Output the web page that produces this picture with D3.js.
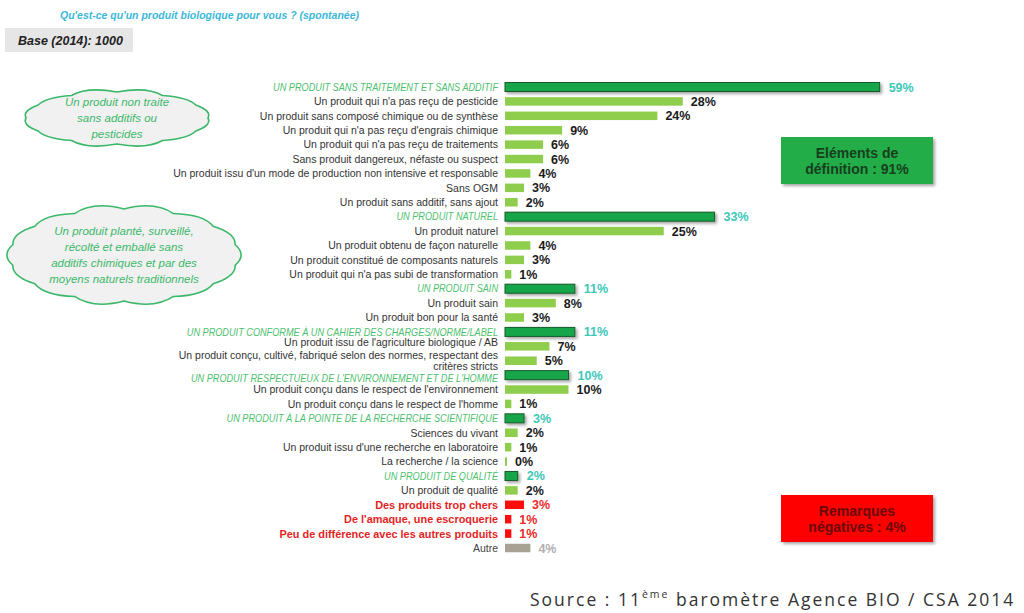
<!DOCTYPE html>
<html><head><meta charset="utf-8">
<script src="https://cdn.jsdelivr.net/npm/d3@7"></script>
<style>body{margin:0;background:#fff;}svg{display:block;}</style>
</head><body>
<svg id="c" width="1024" height="613"></svg>
<script>
const labels = [
 "UN PRODUIT SANS TRAITEMENT ET SANS ADDITIF",
 "Un produit qui n'a pas reçu de pesticide",
 "Un produit sans composé chimique ou de synthèse",
 "Un produit qui n'a pas reçu d'engrais chimique",
 "Un produit qui n'a pas reçu de traitements",
 "Sans produit dangereux, néfaste ou suspect",
 "Un produit issu d'un mode de production non intensive et responsable",
 "Sans OGM",
 "Un produit sans additif, sans ajout",
 "UN PRODUIT NATUREL",
 "Un produit naturel",
 "Un produit obtenu de façon naturelle",
 "Un produit constitué de composants naturels",
 "Un produit qui n'a pas subi de transformation",
 "UN PRODUIT SAIN",
 "Un produit sain",
 "Un produit bon pour la santé",
 "UN PRODUIT CONFORME À UN CAHIER DES CHARGES/NORME/LABEL",
 "Un produit issu de l'agriculture biologique / AB",
 "Un produit conçu, cultivé, fabriqué selon des normes, respectant des|critères stricts",
 "UN PRODUIT RESPECTUEUX DE L'ENVIRONNEMENT ET DE L'HOMME",
 "Un produit conçu dans le respect de l'environnement",
 "Un produit conçu dans le respect de l'homme",
 "UN PRODUIT À LA POINTE DE LA RECHERCHE SCIENTIFIQUE",
 "Sciences du vivant",
 "Un produit issu d'une recherche en laboratoire",
 "La recherche / la science",
 "UN PRODUIT DE QUALITÉ",
 "Un produit de qualité",
 "Des produits trop chers",
 "De l'amaque, une escroquerie",
 "Peu de différence avec les autres produits",
 "Autre"
];
const values = [59,28,24,9,6,6,4,3,2,33,25,4,3,1,11,8,3,11,7,5,10,10,1,3,2,1,0,2,2,3,1,1,4];
const types = ["cat","sub","sub","sub","sub","sub","sub","sub","sub","cat","sub","sub","sub","sub","cat","sub","sub","cat","sub","sub","cat","sub","sub","cat","sub","sub","sub","cat","sub","neg","neg","neg","other"];
const valueLabels = values.map(v => v + "%");
const title = "Qu'est-ce qu'un produit biologique  pour vous ? (spontanée)";
const baseText = "Base (2014): 1000";
const cloud1 = ["Un produit non traite","sans additifs ou","pesticides"];
const cloud2 = ["Un produit planté, surveillé,","récolté et emballé sans","additifs chimiques et par des","moyens naturels traditionnels"];
const boxPos = ["Eléments de","définition : 91%"];
const boxNeg = ["Remarques","négatives : 4%"];

const svg = d3.select("#c");
const defs = svg.append("defs");
const f = defs.append("filter").attr("id","sh").attr("x","-20%").attr("y","-40%").attr("width","150%").attr("height","200%");
f.append("feDropShadow").attr("dx",2).attr("dy",2).attr("stdDeviation",1.5).attr("flood-color","#000").attr("flood-opacity",0.35);

const FONT = "Liberation Sans, Arial, sans-serif";
const x0 = 505;
const x = d3.scaleLinear().domain([0,100]).range([0,635]);
const y = d3.scalePoint().domain(d3.range(labels.length)).range([87,548]);

const fillC = {cat:"#19a548", sub:"#8fce4c", neg:"#ff0d0d", other:"#a8a294"};
const valC = {cat:"#3cc8b8", sub:"#1a1a1a", neg:"#ee2a2a", other:"#b0b0b0"};
const labC = {cat:"#4cbf6e", sub:"#333", neg:"#e41e1e", other:"#444"};
const labFs = {cat:10.3, sub:10.5, neg:10.9, other:10.5};
const labSx = {cat:0.89, sub:1, neg:1, other:1};
// small vertical nudges of labels around the two-line label
const labNudge = {18:-4, 20:3};

// title
svg.append("text").attr("x",60).attr("y",19).text(title)
  .attr("font-family",FONT).attr("font-size",10.5)
  .attr("font-style","italic").attr("font-weight","bold").attr("fill","#3bb8d8");
svg.append("rect").attr("x",5).attr("y",28).attr("width",128).attr("height",24).attr("fill","#e6e6e6");
svg.append("text").attr("x",18).attr("y",45).text(baseText)
  .attr("font-family",FONT).attr("font-size",12.5)
  .attr("font-style","italic").attr("font-weight","bold").attr("fill","#222");

// labels
const g = svg.append("g");
labels.forEach((l,i) => {
  const t = types[i];
  const parts = l.split("|");
  const fs = labFs[t];
  const lg = g.append("g").attr("transform", `translate(498,${y(i)}) scale(${labSx[t]},1)`);
  const txt = lg.append("text").attr("x",0).attr("text-anchor","end")
    .attr("font-family",FONT)
    .attr("font-size", fs)
    .attr("font-weight", t==="neg" ? "bold" : "normal")
    .attr("font-style", t==="cat" ? "italic" : "normal")
    .attr("fill", labC[t]);
  if (parts.length === 1) {
    txt.attr("y", fs*0.36 + (labNudge[i]||0)).text(l);
  } else {
    txt.append("tspan").attr("x",0).attr("y",-5.5+fs*0.36).text(parts[0]);
    txt.append("tspan").attr("x",0).attr("y",5.5+fs*0.36).text(parts[1]);
  }
});

// bars
labels.forEach((l,i) => {
  const t = types[i];
  const w = Math.max(x(values[i]), 2);
  const h = t==="cat" ? 9 : 8.5;
  const r = g.append("rect").attr("x",x0).attr("y",y(i)-h/2).attr("width",w).attr("height",h)
    .attr("fill",fillC[t]);
  if (t==="cat") r.attr("stroke","#145a2a").attr("stroke-width",1).attr("filter","url(#sh)");
  g.append("text").attr("x",x0 + w + (t==="cat"?9:8)).attr("y",y(i)+4.5).text(valueLabels[i])
    .attr("font-family",FONT).attr("font-size",12.5)
    .attr("font-weight","bold").attr("fill",valC[t]);
});

// clouds
function cloudPath(cx, cy, rx, ry, n, bump) {
  const p = d3.path();
  const pts = d3.range(n).map(k => {
    const a = -Math.PI/2 + k*2*Math.PI/n;
    return [cx + rx*Math.cos(a), cy + ry*Math.sin(a)];
  });
  p.moveTo(pts[0][0], pts[0][1]);
  for (let k=0;k<n;k++){
    const a0 = pts[k], a1 = pts[(k+1)%n];
    const mx=(a0[0]+a1[0])/2, my=(a0[1]+a1[1])/2;
    const dx=mx-cx, dy=my-cy, d=Math.hypot(dx,dy)||1;
    p.quadraticCurveTo(mx + dx/d*bump, my + dy/d*bump, a1[0], a1[1]);
  }
  p.closePath();
  return p.toString();
}
function cloud(cx, cy, rx, ry, n, bump, lines, fs, lh) {
  svg.append("path").attr("d", cloudPath(cx,cy,rx,ry,n,bump))
    .attr("fill","#f1f1f1").attr("stroke","#3cb86a").attr("stroke-width",1.6);
  const t = svg.append("text").attr("text-anchor","middle")
    .attr("font-family",FONT).attr("font-size",fs)
    .attr("font-style","italic").attr("fill","#3cb86a");
  lines.forEach((s,k)=> t.append("tspan").attr("x",cx).attr("y",cy - (lines.length-1)*lh/2 + k*lh + fs*0.35).text(s));
}
cloud(117, 118, 91, 26, 12, 10, cloud1, 11.5, 16);
cloud(124, 255, 114, 46, 14, 12, cloud2, 11.5, 16);

// boxes
function box(x1, y1, w, h, fill, tc, lines) {
  svg.append("rect").attr("x",x1).attr("y",y1).attr("width",w).attr("height",h).attr("fill",fill).attr("filter","url(#sh)");
  const t = svg.append("text").attr("text-anchor","middle")
    .attr("font-family",FONT).attr("font-size",14)
    .attr("font-weight","bold").attr("fill",tc);
  lines.forEach((s,k)=> t.append("tspan").attr("x",x1+w/2).attr("y",y1+21 + k*16).text(s));
}
box(781, 137, 152, 47, "#20ad4a", "#173f1d", boxPos);
box(781, 495, 152, 47, "#ff0000", "#6a0a0a", boxNeg);

// source
const st = svg.append("text").attr("x",530).attr("y",606)
  .attr("font-family","Open Sans, DejaVu Sans, sans-serif").attr("font-size",17.5)
  .attr("letter-spacing",2.0).attr("fill","#333");
st.append("tspan").text("Source : 11");
st.append("tspan").attr("dy",-8).attr("font-size",10.5).text("ème");
st.append("tspan").attr("dy",8).text(" baromètre Agence BIO / CSA 2014");
</script>
</body></html>
